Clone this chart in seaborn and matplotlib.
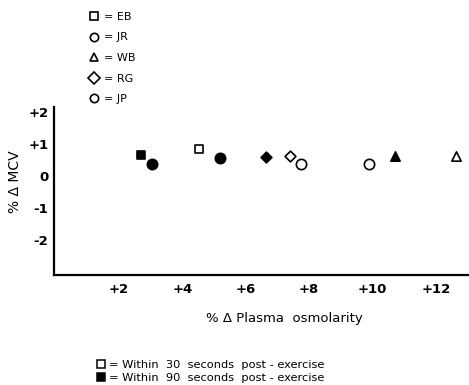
import pandas as pd
import seaborn as sns
import matplotlib.pyplot as plt
from matplotlib.lines import Line2D

# values
subjects = ["EB", "EB", "JR", "JR", "WB", "WB", "RG", "RG", "JP", "JP"]
timing = ["30", "90", "30", "90", "30", "90", "30", "90", "30", "90"]
osmolarity = [4.52, 2.71, 7.75, 3.03, 12.64, 10.7, 7.4, 6.65, 9.9, 5.2]
mcv = [0.83, 0.66, 0.37, 0.37, 0.63, 0.63, 0.63, 0.60, 0.37, 0.55]
marker_of = {"EB": "s", "JR": "o", "WB": "^", "RG": "D", "JP": "o"}
size_of = {"EB": 38, "JR": 55, "WB": 45, "RG": 30, "JP": 55}
legend_labels = ["Within  30  seconds  post - exercise",
                 "Within  90  seconds  post - exercise"]

df = pd.DataFrame({"subject": subjects, "timing": timing,
                   "x": osmolarity, "y": mcv})

sns.set_style("white")
plt.rcParams["font.family"] = ["DejaVu Sans"]
plt.rcParams["text.color"] = "black"
plt.rcParams["axes.labelcolor"] = "black"
plt.rcParams["xtick.color"] = "black"
plt.rcParams["ytick.color"] = "black"

fig = plt.figure(figsize=(4.69, 3.85), dpi=100)
ax = fig.add_axes([0.1151, 0.2857, 0.885, 0.4364])

for (subj, tm), grp in df.groupby(["subject", "timing"]):
    face = "white" if tm == "30" else "black"
    sns.scatterplot(data=grp, x="x", y="y", marker=marker_of[subj],
                    s=size_of[subj], facecolor=face, edgecolor="black",
                    linewidth=1.2, ax=ax, legend=False, zorder=3)

ax.set_xlim(-0.05, 13.05)
ax.set_ylim(-3.1, 2.15)
ax.set_xticks([2, 4, 6, 8, 10, 12])
ax.set_xticklabels(["+2", "+4", "+6", "+8", "+10", "+12"])
ax.set_yticks([2, 1, 0, -1, -2])
ax.set_yticklabels(["+2", "+1", "0", "-1", "-2"])
ax.tick_params(axis="x", direction="in", length=6, width=1.3, labelsize=9.5, pad=6)
ax.tick_params(axis="y", direction="in", length=6, width=1.3, labelsize=9.5, pad=4)
for lab in ax.get_xticklabels() + ax.get_yticklabels():
    lab.set_fontweight("bold")
sns.despine(ax=ax)
for side in ["left", "bottom"]:
    ax.spines[side].set_color("black")
    ax.spines[side].set_linewidth(1.6)

ax.set_xlabel("% Δ Plasma  osmolarity", fontsize=9.5)
ax.set_ylabel("% Δ MCV", fontsize=10)
ax.xaxis.set_label_coords(0.555, -0.22)
ax.yaxis.set_label_coords(-0.077, 0.554)

# subject key at the top
names = ["EB", "JR", "WB", "RG", "JP"]
subj_handles = [Line2D([], [], marker=marker_of[s], ls="", color="black",
                       markerfacecolor="white", markersize=6, markeredgewidth=1.2)
                for s in names]
fig.legend(subj_handles, ["= " + s for s in names],
           loc="upper left", bbox_to_anchor=(0.165, 0.995), frameon=False,
           fontsize=8, labelspacing=0.95, handletextpad=0.3, handlelength=1.2)

# timing key at the bottom
time_handles = [Line2D([], [], marker="s", ls="", color="black",
                       markerfacecolor=fc, markersize=5.5, markeredgewidth=1.1)
                for fc in ["white", "black"]]
fig.legend(time_handles, ["= " + t for t in legend_labels],
           loc="lower left", bbox_to_anchor=(0.2, 0.002), frameon=False,
           fontsize=8.2, labelspacing=0.25, handletextpad=0.2, handlelength=1.0,
           borderpad=0.1, borderaxespad=0.0)

fig.savefig("out.png", dpi=100)
